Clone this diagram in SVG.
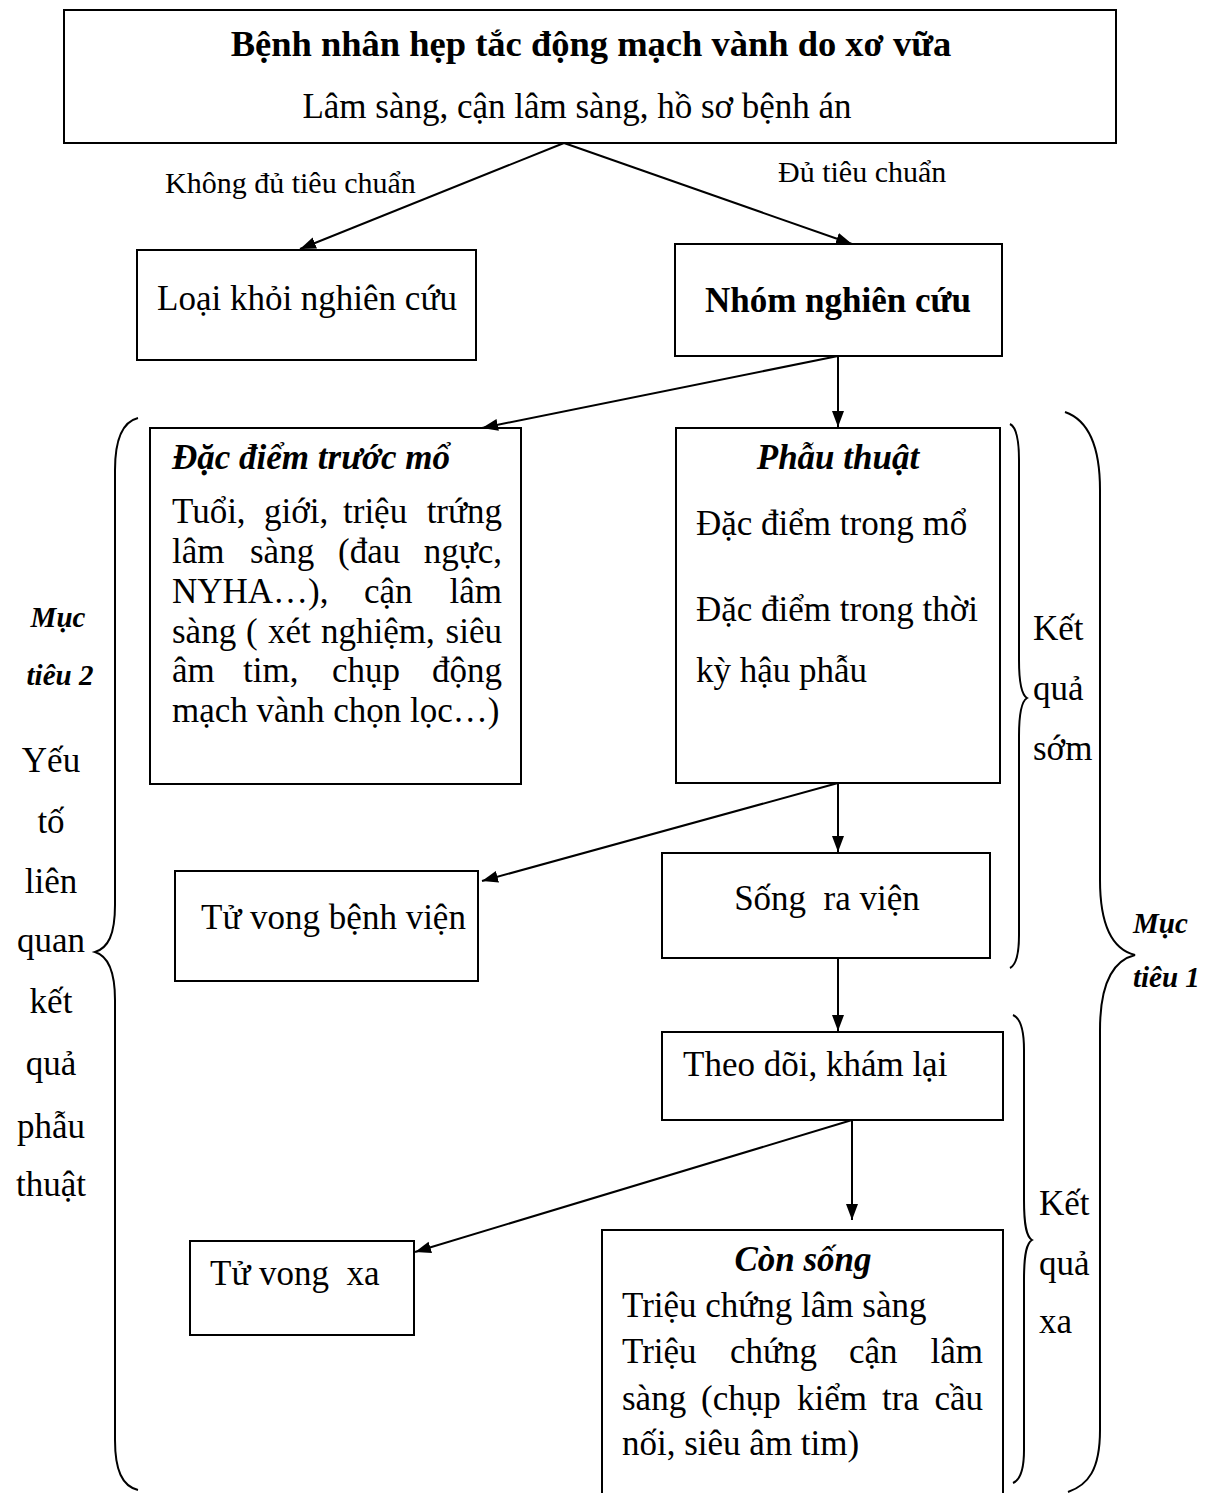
<svg xmlns="http://www.w3.org/2000/svg" width="1218" height="1493" viewBox="0 0 1218 1493">
<style>
.box{fill:none;stroke:#000;stroke-width:2}
text{font-family:"Liberation Serif","Times New Roman",serif;font-size:35px;fill:#000}
.b{font-weight:bold}
.bi{font-weight:bold;font-style:italic}
.ttl{font-size:36.5px}
.lbl{font-size:30px}
.m{font-size:29px;font-weight:bold;font-style:italic}
.mid{text-anchor:middle}
.end{text-anchor:end}
.pre{white-space:pre}
.conn line{stroke:#000;stroke-width:2;marker-end:url(#ah)}
.brace{fill:none;stroke:#000;stroke-width:2}
</style>
<defs>
<marker id="ah" markerUnits="userSpaceOnUse" markerWidth="17" markerHeight="13" refX="16" refY="6" orient="auto">
<path d="M0,0 L16,6 L0,12 z" fill="#000"/>
</marker>
</defs>
<rect width="1218" height="1493" fill="#fff"/>

<g id="n-top">
<rect class="box" x="64" y="10" width="1052" height="133"/>
<text class="b mid ttl" x="591" y="56">Bệnh nhân hẹp tắc động mạch vành do xơ vữa</text>
<text class="mid" x="577" y="118">Lâm sàng, cận lâm sàng, hồ sơ bệnh án</text>
</g>

<g id="labels">
<text class="lbl" x="165" y="193">Không đủ tiêu chuẩn</text>
<text class="lbl" x="778" y="182">Đủ tiêu chuẩn</text>
</g>

<g id="n-loai">
<rect class="box" x="137" y="250" width="339" height="110"/>
<text x="157" y="310">Loại khỏi nghiên cứu</text>
</g>

<g id="n-nhom">
<rect class="box" x="675" y="244" width="327" height="112"/>
<text class="b mid" x="838" y="312">Nhóm nghiên cứu</text>
</g>

<g id="n-dacdiem">
<rect class="box" x="150" y="428" width="371" height="356"/>
<text class="bi" x="172" y="469">Đặc điểm trước mổ</text>
<text x="172" y="523">Tuổi,</text><text x="264" y="523">giới,</text><text x="343" y="523">triệu</text><text class="end" x="502" y="523">trứng</text>
<text x="172" y="563">lâm</text><text x="250" y="563">sàng</text><text x="338" y="563">(đau</text><text class="end" x="502" y="563">ngực,</text>
<text x="172" y="603">NYHA…),</text><text x="364" y="603">cận</text><text class="end" x="502" y="603">lâm</text>
<text x="172" y="643">sàng</text><text x="246" y="643">(</text><text x="268" y="643">xét</text><text x="321" y="643">nghiệm,</text><text class="end" x="502" y="643">siêu</text>
<text x="172" y="682">âm</text><text x="243" y="682">tim,</text><text x="332" y="682">chụp</text><text class="end" x="502" y="682">động</text>
<text x="172" y="722">mạch vành chọn lọc…)</text>
</g>

<g id="n-phauthuat">
<rect class="box" x="676" y="428" width="324" height="355"/>
<text class="bi mid" x="838" y="469">Phẫu thuật</text>
<text x="696" y="535">Đặc điểm trong mổ</text>
<text x="696" y="621">Đặc điểm trong thời</text>
<text x="696" y="682">kỳ hậu phẫu</text>
</g>

<g id="n-tuvongbv">
<rect class="box" x="175" y="871" width="303" height="110"/>
<text x="201" y="929">Tử vong bệnh viện</text>
</g>

<g id="n-song">
<rect class="box" x="662" y="853" width="328" height="105"/>
<text class="mid pre" x="827" y="910">Sống  ra viện</text>
</g>

<g id="n-theodoi">
<rect class="box" x="662" y="1032" width="341" height="88"/>
<text x="683" y="1076">Theo dõi, khám lại</text>
</g>

<g id="n-tuvongxa">
<rect class="box" x="190" y="1241" width="224" height="94"/>
<text class="pre" x="210" y="1285">Tử vong  xa</text>
</g>

<g id="n-consong">
<rect class="box" x="602" y="1230" width="401" height="280"/>
<text class="bi mid" x="803" y="1271">Còn sống</text>
<text x="622" y="1317">Triệu chứng lâm sàng</text>
<text x="622" y="1363">Triệu</text><text x="730" y="1363">chứng</text><text x="849" y="1363">cận</text><text class="end" x="983" y="1363">lâm</text>
<text x="622" y="1410">sàng</text><text x="701" y="1410">(chụp</text><text x="797" y="1410">kiểm</text><text x="882" y="1410">tra</text><text class="end" x="983" y="1410">cầu</text>
<text x="622" y="1455">nối, siêu âm tim)</text>
</g>

<g id="connectors" class="conn">
<line x1="564" y1="143" x2="300" y2="249"/>
<line x1="564" y1="143" x2="852" y2="244"/>
<line x1="838" y1="356" x2="838" y2="427"/>
<line x1="838" y1="356" x2="482" y2="428"/>
<line x1="838" y1="783" x2="838" y2="852"/>
<line x1="838" y1="783" x2="482" y2="881"/>
<line x1="838" y1="958" x2="838" y2="1031"/>
<line x1="852" y1="1120" x2="852" y2="1220"/>
<line x1="852" y1="1120" x2="415" y2="1252"/>
</g>

<g id="brace-left">
<path class="brace" d="M138,418 C122,422 115,440 115,470 L115,905 C115,935 108,948 95,952 C108,956 115,970 115,1000 L115,1440 C115,1470 122,1486 138,1490"/>
<text class="m mid" x="58" y="627">Mục</text>
<text class="m mid" x="60" y="685">tiêu 2</text>
<text class="mid" x="51" y="772">Yếu</text>
<text class="mid" x="51" y="833">tố</text>
<text class="mid" x="51" y="893">liên</text>
<text class="mid" x="51" y="952">quan</text>
<text class="mid" x="51" y="1013">kết</text>
<text class="mid" x="51" y="1075">quả</text>
<text class="mid" x="51" y="1138">phẫu</text>
<text class="mid" x="51" y="1196">thuật</text>
</g>

<g id="brace-som">
<path class="brace" d="M1010,424 C1016,427 1019,440 1019,460 L1019,660 C1019,685 1022,695 1027,698 C1022,701 1019,711 1019,736 L1019,935 C1019,955 1016,965 1010,968"/>
<text x="1033" y="640">Kết</text>
<text x="1033" y="700">quả</text>
<text x="1033" y="760">sớm</text>
</g>

<g id="brace-xa">
<path class="brace" d="M1013,1015 C1020,1018 1024,1030 1024,1050 L1024,1200 C1024,1228 1027,1237 1032,1240 C1027,1243 1024,1252 1024,1280 L1024,1450 C1024,1470 1020,1480 1013,1483"/>
<text x="1039" y="1215">Kết</text>
<text x="1039" y="1275">quả</text>
<text x="1039" y="1333">xa</text>
</g>

<g id="brace-muctieu1">
<path class="brace" d="M1065,412 C1088,420 1100,445 1100,490 L1100,880 C1100,930 1115,950 1135,955 C1115,960 1100,980 1100,1030 L1100,1430 C1100,1470 1088,1485 1068,1492"/>
<text class="m" x="1133" y="933">Mục</text>
<text class="m" x="1133" y="987">tiêu 1</text>
</g>
</svg>
